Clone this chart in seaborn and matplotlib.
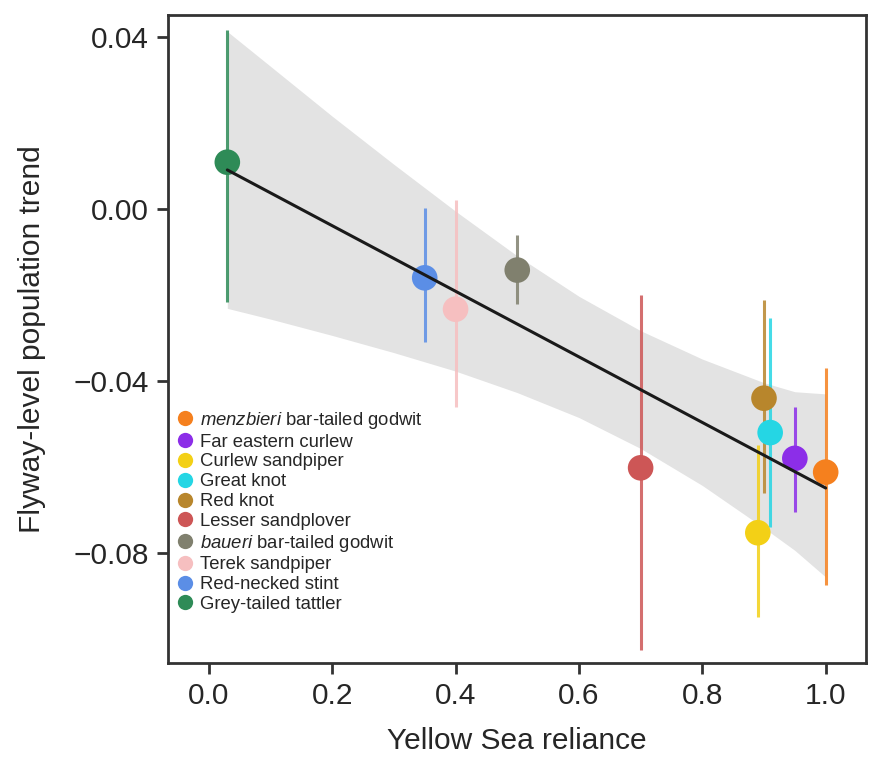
import numpy as np
import pandas as pd
import matplotlib
matplotlib.use("Agg")
import matplotlib.pyplot as plt
import seaborn as sns

# species, Yellow Sea reliance, trend and its interval
species = [r"$\it{menzbieri}$ bar-tailed godwit", "Far eastern curlew", "Curlew sandpiper",
           "Great knot", "Red knot", "Lesser sandplover", r"$\it{baueri}$ bar-tailed godwit",
           "Terek sandpiper", "Red-necked stint", "Grey-tailed tattler"]
reliance = [1.00, 0.95, 0.89, 0.91, 0.90, 0.70, 0.50, 0.40, 0.35, 0.03]
trend = [-0.0612, -0.0580, -0.0753, -0.0520, -0.0440, -0.0602, -0.0142, -0.0233, -0.0160, 0.0109]
trend_lo = [-0.0874, -0.0705, -0.0950, -0.0740, -0.0660, -0.1026, -0.0220, -0.0460, -0.0310, -0.0216]
trend_hi = [-0.0370, -0.0460, -0.0550, -0.0253, -0.0212, -0.0200, -0.0060, 0.0021, 0.0002, 0.0416]
colors = ["#f5801e", "#8c2ee8", "#f3d016", "#25d6e4", "#b8862c", "#cd5656",
          "#80806e", "#f6bfc0", "#5b8ee6", "#2e8b57"]

# fitted line and its confidence band
fit_x = [0.03, 1.00]
fit_y = [0.0091, -0.0649]
band_x = [0.03, 0.1, 0.2, 0.3, 0.4, 0.5, 0.6, 0.7, 0.8, 0.9, 0.95, 1.0]
band_lo = [-0.0231, -0.0256, -0.0294, -0.0334, -0.0377, -0.0427, -0.0485, -0.0557,
           -0.0643, -0.0742, -0.0794, -0.0856]
band_hi = [0.0413, 0.0332, 0.0216, 0.0104, -0.0005, -0.0109, -0.0203, -0.0283,
           -0.0349, -0.0404, -0.0425, -0.0430]

df = pd.DataFrame({"species": species, "reliance": reliance, "trend": trend,
                   "lo": trend_lo, "hi": trend_hi})
fit = pd.DataFrame({"x": fit_x, "y": fit_y})

sns.set_style("white")
plt.rcParams["font.family"] = ["Liberation Sans", "DejaVu Sans"]
plt.rcParams["mathtext.fontset"] = "custom"
plt.rcParams["mathtext.it"] = "Liberation Sans:italic"
plt.rcParams["mathtext.rm"] = "Liberation Sans"

fig = plt.figure(figsize=(8.71, 7.59), dpi=100)
ax = fig.add_axes([0.193, 0.1265, 0.801, 0.8535])

ax.fill_between(band_x, band_lo, band_hi, color="#e3e3e3", lw=0, zorder=1)
ax.vlines(df["reliance"], df["lo"], df["hi"], colors=colors, lw=2.2, alpha=0.85, zorder=2)
sns.scatterplot(data=df, x="reliance", y="trend", hue="species", hue_order=species,
                palette=colors, s=340, edgecolor="none", ax=ax, zorder=3)
sns.lineplot(data=fit, x="x", y="y", color="#1a1a1a", lw=2.2, ax=ax, zorder=4)

ax.set_xlim(-0.066, 1.065)
ax.set_ylim(-0.1056, 0.0451)
ax.set_xticks([0.0, 0.2, 0.4, 0.6, 0.8, 1.0])
ax.set_xticklabels(["0.0", "0.2", "0.4", "0.6", "0.8", "1.0"])
ax.set_yticks([0.04, 0.0, -0.04, -0.08])
ax.set_yticklabels(["0.04", "0.00", "\u22120.04", "\u22120.08"])
ax.tick_params(axis="both", labelsize=21.5, length=8, width=2, color="#333333",
               direction="out", bottom=True, left=True, pad=6)
for sp in ax.spines.values():
    sp.set_linewidth(2)
    sp.set_color("#333333")
ax.set_xlabel("Yellow Sea reliance", fontsize=21.5, labelpad=12)
ax.set_ylabel("Flyway-level population trend", fontsize=21.5, labelpad=20)

handles, labels = ax.get_legend_handles_labels()
for h in handles:
    h.set_markersize(11)
ax.legend(handles, labels, loc="lower left", bbox_to_anchor=(0.006, 0.066),
          frameon=False, fontsize=13.3, handlelength=0.6, handletextpad=0.5,
          labelspacing=0.15, borderpad=0.2, borderaxespad=0.2)

fig.savefig("out.png", dpi=100)
